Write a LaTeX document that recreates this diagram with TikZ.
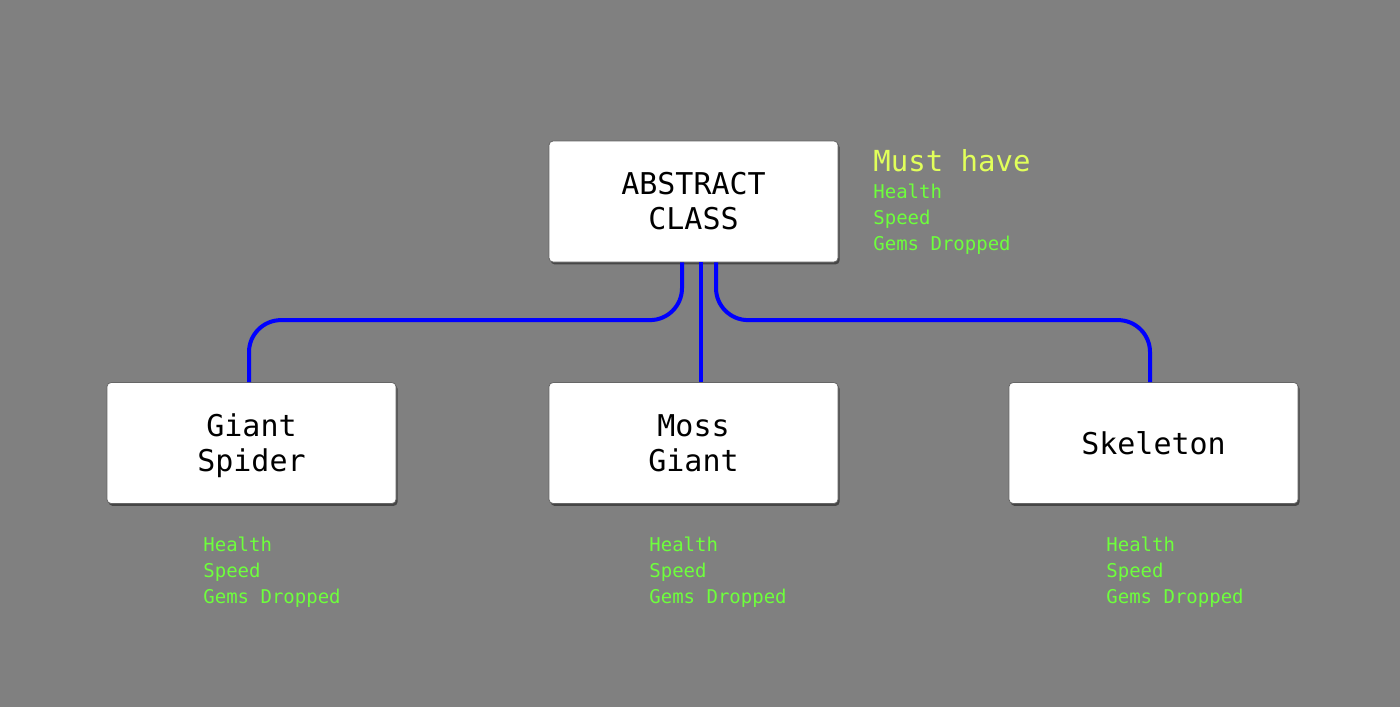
\documentclass[tikz,border=0pt]{standalone}
\usepackage{fontspec}
\setmonofont{DejaVu Sans Mono}
\usetikzlibrary{shadows,calc}
\definecolor{bg}{RGB}{128,128,128}
\definecolor{attr}{RGB}{110,255,60}
\definecolor{must}{RGB}{225,255,90}
\definecolor{conn}{RGB}{0,0,255}
\tikzset{
  classbox/.style={draw=black!60, line width=0.4pt, fill=white, rounded corners=2pt,
    minimum width=144.5pt, minimum height=60.5pt, inner sep=0pt, align=center,
    font=\ttfamily\fontsize{15}{17.5}\selectfont,
    drop shadow={shadow xshift=0.8pt, shadow yshift=-1.2pt, opacity=0.45, fill=black}},
  attrlist/.style={anchor=north west, inner sep=0pt, align=left, text=attr,
    font=\ttfamily\fontsize{9.5}{13}\selectfont},
  musthave/.style={anchor=base west, inner sep=0pt, text=must,
    font=\ttfamily\fontsize{14.5}{17}\selectfont},
  link/.style={draw=conn, line width=2pt, rounded corners=16pt}
}
\begin{document}
\begin{tikzpicture}[x=0.5pt,y=-0.5pt]
\fill[bg] (0,0) rectangle (1400,707);
\useasboundingbox (0,0) rectangle (1400,707);

\node[classbox] (abs) at (693.5,201.5) {ABSTRACT\\CLASS};
\node[classbox] (spider) at (251.5,443) {Giant\\\raisebox{0pt}[\height][0pt]{Spider}};
\node[classbox] (moss) at (693.5,443) {Moss\\Giant};
\node[classbox] (skel) at (1153.5,443) {Skeleton};

\draw[link] ([xshift=-5.75pt]abs.south) |- ([xshift=-1.25pt,yshift=31pt]spider.north) -- ([xshift=-1.25pt]spider.north);
\draw[link] ([xshift=3.75pt]abs.south) -- ([xshift=3.75pt]abs.south |- moss.north);
\draw[link] ([xshift=11.25pt]abs.south) |- ([xshift=-1.75pt,yshift=31pt]skel.north) -- ([xshift=-1.75pt]skel.north);

\node[musthave] (must) at (873,171) {Must have};
\node[attrlist] (absattr) at (873,184) {Health\\Speed\\Gems Dropped};
\node[attrlist] (spiderattr) at (203,537) {Health\\Speed\\Gems Dropped};
\node[attrlist] (mossattr) at (649,537) {Health\\Speed\\Gems Dropped};
\node[attrlist] (skelattr) at (1106,537) {Health\\Speed\\Gems Dropped};
\end{tikzpicture}
\end{document}
